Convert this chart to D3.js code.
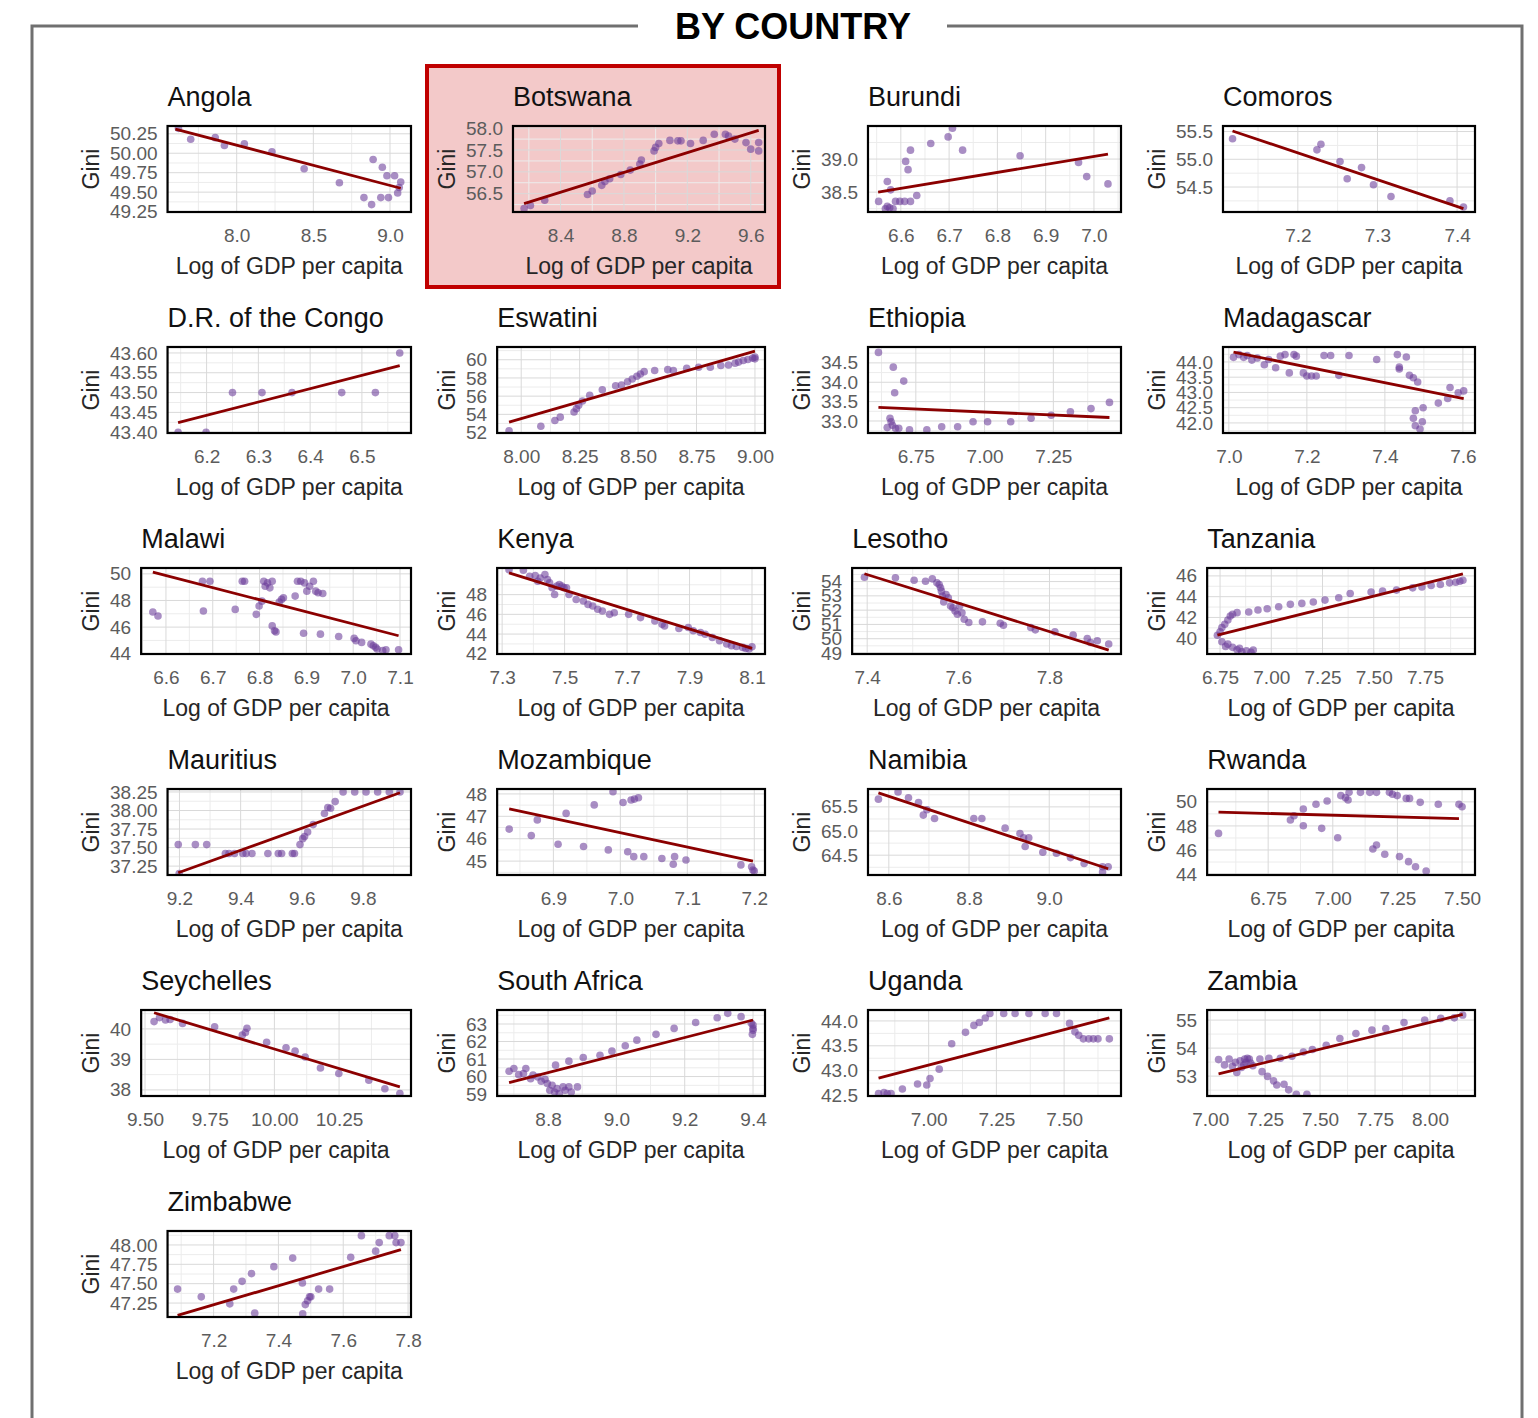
<!DOCTYPE html>
<html>
<head>
<meta charset="utf-8">
<script src="https://cdn.jsdelivr.net/npm/d3@7"></script>
<style>
  body { margin: 0; background: #fff; }
  svg { display: block; font-family: "Liberation Sans", Arial, sans-serif; }
</style>
</head>
<body>
<svg id="chart" width="1538" height="1418"></svg>
<script>
// ---- Countries, in panel order (row by row, four per row) ----
const countries = ["Angola", "Botswana", "Burundi", "Comoros",
  "D.R. of the Congo", "Eswatini", "Ethiopia", "Madagascar",
  "Malawi", "Kenya", "Lesotho", "Tanzania",
  "Mauritius", "Mozambique", "Namibia", "Rwanda",
  "Seychelles", "South Africa", "Uganda", "Zambia",
  "Zimbabwe"];
const highlighted = "Botswana";

// ---- Observations per country: [log GDP per capita, Gini] ----
const angola = [[7.62,50.32],[7.70,50.18],[7.86,50.20],[7.92,50.10],[8.05,50.12],[8.23,50.02],[8.44,49.80],[8.67,49.62],[8.83,49.43],[8.88,49.34],[8.89,49.92],[8.95,49.82],[8.98,49.71],[8.94,49.43],[8.99,49.43],[9.03,49.71],[9.05,49.49],[9.06,49.56],[9.07,49.63]];
const botswana = [[8.17,56.16],[8.21,56.23],[8.30,56.35],[8.57,56.48],[8.60,56.56],[8.66,56.69],[8.68,56.78],[8.71,56.84],[8.78,56.94],[8.84,57.04],[8.90,57.18],[8.91,57.27],[8.99,57.48],[9.00,57.56],[9.02,57.65],[9.09,57.72],[9.14,57.71],[9.16,57.71],[9.22,57.65],[9.30,57.72],[9.37,57.86],[9.44,57.86],[9.46,57.82],[9.50,57.75],[9.57,57.67],[9.60,57.52],[9.65,57.67],[9.65,57.48]];
const burundi = [[6.554,38.36],[6.568,38.25],[6.572,38.285],[6.577,38.265],[6.584,38.25],[6.572,38.66],[6.579,38.535],[6.589,38.36],[6.598,38.36],[6.608,38.36],[6.620,38.36],[6.633,38.45],[6.610,38.965],[6.615,38.84],[6.620,39.135],[6.662,39.235],[6.698,39.335],[6.707,39.465],[6.728,39.135],[6.847,39.05],[6.968,38.95],[6.985,38.735],[7.029,38.625]];
const comoros = [[7.118,55.37],[7.224,55.17],[7.229,55.27],[7.253,54.96],[7.262,54.65],[7.280,54.85],[7.295,54.54],[7.317,54.33],[7.391,54.25],[7.408,54.14]];
const drCongo = [[6.145,43.40],[6.199,43.40],[6.250,43.50],[6.307,43.50],[6.365,43.50],[6.461,43.50],[6.526,43.50],[6.573,43.60]];
const eswatini = [[7.948,52.2],[8.084,52.69],[8.144,53.32],[8.167,53.69],[8.226,54.25],[8.236,54.62],[8.246,54.99],[8.262,55.47],[8.293,56.10],[8.347,56.69],[8.404,57.14],[8.429,57.21],[8.455,57.58],[8.475,57.88],[8.495,58.18],[8.510,58.43],[8.526,58.69],[8.571,58.81],[8.627,58.91],[8.651,58.81],[8.708,59.07],[8.759,59.18],[8.809,59.18],[8.854,59.36],[8.887,59.43],[8.915,59.62],[8.93,59.74],[8.95,59.92],[8.97,60.03],[8.99,60.18],[9.00,60.29],[9.00,60.10]];
const ethiopia = [[6.614,34.77],[6.668,34.39],[6.706,34.03],[6.673,33.73],[6.656,33.07],[6.660,32.98],[6.646,32.83],[6.665,32.89],[6.676,32.81],[6.688,32.81],[6.727,32.77],[6.790,32.77],[6.844,32.85],[6.902,32.85],[6.958,32.98],[7.011,32.98],[7.095,32.98],[7.169,33.07],[7.242,33.15],[7.312,33.24],[7.387,33.32],[7.454,33.48]];
const madagascar = [[7.012,44.15],[7.026,44.24],[7.038,44.15],[7.047,44.21],[7.059,44.06],[7.073,44.13],[7.091,43.91],[7.102,44.08],[7.120,43.81],[7.132,44.19],[7.144,44.24],[7.155,43.64],[7.167,44.24],[7.173,44.19],[7.191,43.64],[7.200,43.54],[7.212,43.54],[7.224,43.54],[7.244,44.21],[7.261,44.21],[7.282,43.56],[7.308,44.21],[7.379,44.08],[7.432,44.24],[7.437,43.83],[7.437,43.77],[7.455,44.16],[7.463,43.56],[7.473,43.48],[7.484,43.34],[7.478,42.40],[7.473,42.15],[7.478,41.91],[7.496,42.04],[7.490,41.80],[7.498,42.50],[7.537,42.65],[7.561,42.80],[7.567,43.16],[7.588,42.99],[7.602,43.05]];
const malawi = [[6.572,47.13],[6.583,46.84],[6.680,47.21],[6.678,49.45],[6.694,49.45],[6.748,47.33],[6.763,49.45],[6.768,49.45],[6.793,46.96],[6.799,47.58],[6.805,47.95],[6.809,49.45],[6.812,49.07],[6.817,49.32],[6.822,48.95],[6.827,49.45],[6.827,46.09],[6.832,45.72],[6.835,45.64],[6.842,47.88],[6.847,48.08],[6.851,48.20],[6.876,48.33],[6.881,49.45],[6.888,49.45],[6.896,49.32],[6.901,48.70],[6.907,49.07],[6.915,49.45],[6.920,48.70],[6.925,48.58],[6.935,48.53],[6.894,45.54],[6.930,45.47],[6.969,45.30],[7.002,45.15],[7.006,44.97],[7.018,44.85],[7.038,44.72],[7.043,44.60],[7.051,44.35],[7.063,44.23],[7.070,44.30],[7.097,44.30],[7.048,44.48]];
const kenya = [[7.322,50.53],[7.368,50.47],[7.388,49.86],[7.406,49.93],[7.414,49.36],[7.422,49.69],[7.437,50.03],[7.445,49.53],[7.452,49.19],[7.460,48.69],[7.468,48.02],[7.475,48.86],[7.483,49.02],[7.491,48.86],[7.498,48.69],[7.506,48.69],[7.514,48.02],[7.537,47.51],[7.560,47.35],[7.575,47.01],[7.590,46.84],[7.606,46.51],[7.621,46.34],[7.644,46.00],[7.659,46.17],[7.705,46.00],[7.743,45.67],[7.789,45.33],[7.812,44.99],[7.820,44.83],[7.866,44.56],[7.896,44.66],[7.912,44.33],[7.935,44.16],[7.950,43.99],[7.973,43.66],[7.996,43.32],[8.019,42.99],[8.034,42.82],[8.05,42.75],[8.07,42.65],[8.08,42.55],[8.09,42.48],[8.10,42.72]];
const lesotho = [[7.394,54.30],[7.462,54.26],[7.503,54.09],[7.528,54.02],[7.543,54.19],[7.553,53.91],[7.558,53.79],[7.561,53.56],[7.563,53.33],[7.565,52.98],[7.568,52.57],[7.573,53.10],[7.578,52.87],[7.583,52.29],[7.588,52.17],[7.593,51.94],[7.598,51.71],[7.603,52.29],[7.608,51.82],[7.613,51.36],[7.623,51.13],[7.653,51.18],[7.692,51.08],[7.699,50.94],[7.759,50.78],[7.769,50.62],[7.812,50.48],[7.852,50.25],[7.883,50.02],[7.890,49.74],[7.905,49.86],[7.930,49.63]];
const tanzania = [[6.737,40.29],[6.750,40.61],[6.759,41.03],[6.773,41.35],[6.788,41.76],[6.800,42.14],[6.811,42.30],[6.833,42.46],[6.890,42.52],[6.935,42.71],[6.980,42.84],[7.036,43.03],[7.093,43.26],[7.149,43.35],[7.205,43.48],[7.262,43.67],[7.329,43.89],[7.385,44.31],[7.487,44.44],[7.543,44.53],[7.611,44.63],[7.690,44.85],[7.735,44.94],[7.780,45.07],[7.825,45.17],[7.870,45.33],[7.90,45.39],[7.92,45.49],[7.935,45.58],[6.759,39.66],[6.777,39.21],[6.788,39.43],[6.811,39.12],[6.833,38.89],[6.856,38.70],[6.879,38.80],[6.901,38.64],[6.912,38.86],[6.845,39.02]];
const mauritius = [[9.196,37.54],[9.252,37.54],[9.289,37.54],[9.350,37.42],[9.362,37.42],[9.380,37.42],[9.407,37.42],[9.418,37.42],[9.437,37.42],[9.489,37.42],[9.523,37.42],[9.534,37.42],[9.569,37.42],[9.576,37.42],[9.594,37.54],[9.603,37.62],[9.609,37.65],[9.619,37.71],[9.637,37.81],[9.674,37.96],[9.685,38.04],[9.694,38.03],[9.709,38.12],[9.735,38.25],[9.773,38.25],[9.810,38.25],[9.848,38.25],[9.886,38.25],[9.921,38.25],[9.199,37.15]];
const mozambique = [[6.834,46.43],[6.867,46.14],[6.876,46.84],[6.907,45.75],[6.919,47.13],[6.945,45.65],[6.961,47.51],[6.982,45.50],[6.989,48.10],[7.004,47.62],[7.011,45.42],[7.016,47.73],[7.020,45.20],[7.021,47.77],[7.027,47.83],[7.035,45.20],[7.062,45.12],[7.079,44.86],[7.081,45.20],[7.098,45.05],[7.18,44.83],[7.196,44.75],[7.198,44.60],[7.20,44.56]];
const namibia = [[8.574,65.66],[8.623,65.81],[8.649,65.69],[8.674,65.59],[8.686,65.33],[8.695,65.44],[8.714,65.26],[8.812,65.26],[8.832,65.26],[8.890,65.06],[8.927,64.95],[8.936,64.86],[8.940,64.68],[8.949,64.86],[8.984,64.56],[9.018,64.54],[9.053,64.45],[9.087,64.33],[9.133,64.26],[9.147,64.26],[9.133,64.15]];
const rwanda = [[6.558,47.38],[6.836,48.49],[6.850,48.85],[6.886,49.41],[6.886,48.02],[6.935,49.80],[6.957,47.80],[6.978,50.07],[7.019,47.02],[7.031,50.52],[7.049,50.35],[7.059,50.16],[7.063,50.79],[7.107,50.79],[7.143,50.79],[7.169,50.79],[7.219,50.79],[7.231,50.63],[7.249,50.52],[7.284,50.29],[7.297,50.29],[7.338,49.96],[7.408,49.80],[7.488,49.80],[7.500,49.60],[7.155,46.08],[7.169,46.42],[7.201,45.64],[7.258,45.45],[7.293,45.03],[7.320,44.61],[7.361,44.25]];
const seychelles = [[9.535,40.24],[9.556,40.37],[9.579,40.29],[9.597,40.31],[9.645,40.18],[9.769,40.07],[9.876,39.80],[9.888,39.88],[9.894,40.02],[9.970,39.56],[10.045,39.38],[10.080,39.27],[10.119,39.08],[10.178,38.72],[10.249,38.54],[10.365,38.32],[10.427,38.04],[10.485,37.88]];
const southAfrica = [[8.686,60.30],[8.700,60.46],[8.714,60.11],[8.728,60.17],[8.735,60.46],[8.749,59.88],[8.756,60.08],[8.770,59.98],[8.780,59.73],[8.791,59.85],[8.798,59.60],[8.805,59.22],[8.812,59.50],[8.819,59.12],[8.826,59.31],[8.833,59.03],[8.844,59.41],[8.850,59.22],[8.861,59.41],[8.868,59.12],[8.886,59.41],[8.822,60.65],[8.861,60.88],[8.903,61.09],[8.952,61.22],[8.987,61.45],[9.026,61.76],[9.060,62.08],[9.116,62.41],[9.169,62.75],[9.232,63.09],[9.295,63.36],[9.326,63.61],[9.365,63.42],[9.395,63.04],[9.40,62.75],[9.398,62.41],[9.40,62.65],[9.40,62.94]];
const uganda = [[6.815,42.54],[6.835,42.56],[6.847,42.54],[6.861,42.54],[6.903,42.63],[6.959,42.73],[6.993,42.71],[7.005,42.84],[7.039,43.03],[7.085,43.54],[7.136,43.77],[7.167,43.91],[7.187,43.97],[7.209,44.06],[7.226,44.15],[7.277,44.15],[7.319,44.15],[7.370,44.15],[7.430,44.15],[7.472,44.15],[7.520,43.95],[7.540,43.78],[7.554,43.71],[7.571,43.64],[7.591,43.64],[7.608,43.64],[7.625,43.64],[7.667,43.64]];
const zambia = [[7.038,53.59],[7.065,53.40],[7.086,53.61],[7.101,53.35],[7.115,53.49],[7.121,53.13],[7.136,53.55],[7.142,53.31],[7.153,53.40],[7.157,53.61],[7.163,53.49],[7.169,53.64],[7.178,53.61],[7.184,53.47],[7.194,53.37],[7.226,53.61],[7.267,53.64],[7.319,53.64],[7.236,53.16],[7.261,52.99],[7.288,52.83],[7.303,52.68],[7.336,52.71],[7.357,52.51],[7.392,52.35],[7.440,52.35],[7.372,53.71],[7.424,53.86],[7.465,53.95],[7.528,54.10],[7.590,54.34],[7.663,54.52],[7.736,54.64],[7.799,54.70],[7.882,54.91],[7.976,55.0],[8.049,55.06],[8.111,55.08],[8.149,55.18]];
const zimbabwe = [[7.089,47.43],[7.162,47.33],[7.250,47.24],[7.262,47.43],[7.288,47.53],[7.317,47.63],[7.327,47.12],[7.386,47.72],[7.444,47.83],[7.474,47.51],[7.475,47.11],[7.483,47.23],[7.490,47.28],[7.496,47.33],[7.500,47.33],[7.524,47.43],[7.558,47.43],[7.623,47.84],[7.656,48.12],[7.700,47.92],[7.711,48.03],[7.742,48.12],[7.759,48.12],[7.763,48.03],[7.778,48.03]];

const observations = [angola, botswana, burundi, comoros, drCongo, eswatini, ethiopia, madagascar,
  malawi, kenya, lesotho, tanzania, mauritius, mozambique, namibia, rwanda,
  seychelles, southAfrica, uganda, zambia, zimbabwe];

// ---- Fitted linear trend per country: [x start, Gini start, x end, Gini end] ----
const trendLines = [
  [7.60,50.31,9.07,49.55], [8.17,56.27,9.65,57.95], [6.553,38.50,7.029,39.075], [7.118,55.51,7.408,54.11],
  [6.145,43.424,6.573,43.568], [7.948,53.14,9.00,60.95], [6.614,33.35,7.454,33.09], [7.012,44.32,7.602,42.80],
  [6.572,50.13,7.097,45.35], [7.322,50.20,8.10,42.55], [7.394,54.55,7.930,49.20], [6.737,40.30,7.935,46.20],
  [9.196,37.16,9.921,38.24], [6.834,47.33,7.198,45.00], [8.574,65.79,9.147,64.22], [6.558,49.15,7.488,48.60],
  [9.535,40.53,10.485,38.10], [8.686,59.65,9.40,63.23], [6.815,42.85,7.667,44.06], [7.038,53.08,8.149,55.20],
  [7.089,47.09,7.778,47.94]
];

// ---- Axis limits (panel edges) ----
const xLimits = [
  [7.549,9.137], [8.10,9.69], [6.532,7.056], [7.106,7.4225],
  [6.1246,6.5948], [7.897,9.043], [6.576,7.496], [6.985,7.631],
  [6.547,7.1235], [7.284,8.1416], [7.367,7.957], [6.687,7.994],
  [9.161,9.957], [6.816,7.216], [8.548,9.179], [6.514,7.55],
  [9.485,10.528], [8.651,9.435], [6.776,7.71], [6.986,8.205],
  [7.058,7.809]
];
const yLimits = [
  [49.245,50.35], [56.08,58.05], [38.2,39.5], [54.05,55.6],
  [43.398,43.615], [51.95,61.4], [32.69,34.91], [41.67,44.49],
  [43.98,50.44], [41.98,50.7], [48.93,54.95], [38.48,46.76],
  [37.13,38.29], [44.38,48.22], [64.09,65.87], [43.92,51.07],
  [37.80,40.62], [58.89,63.8], [42.49,44.22], [52.29,55.36],
  [47.07,48.18]
];

// ---- Tick labels ----
const xTickLabels = [
  ["8.0","8.5","9.0"], ["8.4","8.8","9.2","9.6"], ["6.6","6.7","6.8","6.9","7.0"], ["7.2","7.3","7.4"],
  ["6.2","6.3","6.4","6.5"], ["8.00","8.25","8.50","8.75","9.00"], ["6.75","7.00","7.25"], ["7.0","7.2","7.4","7.6"],
  ["6.6","6.7","6.8","6.9","7.0","7.1"], ["7.3","7.5","7.7","7.9","8.1"], ["7.4","7.6","7.8"], ["6.75","7.00","7.25","7.50","7.75"],
  ["9.2","9.4","9.6","9.8"], ["6.9","7.0","7.1","7.2"], ["8.6","8.8","9.0"], ["6.75","7.00","7.25","7.50"],
  ["9.50","9.75","10.00","10.25"], ["8.8","9.0","9.2","9.4"], ["7.00","7.25","7.50"], ["7.00","7.25","7.50","7.75","8.00"],
  ["7.2","7.4","7.6","7.8"]
];
const yTickLabels = [
  ["49.25","49.50","49.75","50.00","50.25"], ["56.5","57.0","57.5","58.0"], ["38.5","39.0"], ["54.5","55.0","55.5"],
  ["43.40","43.45","43.50","43.55","43.60"], ["52","54","56","58","60"], ["33.0","33.5","34.0","34.5"], ["42.0","42.5","43.0","43.5","44.0"],
  ["44","46","48","50"], ["42","44","46","48"], ["49","50","51","52","53","54"], ["40","42","44","46"],
  ["37.25","37.50","37.75","38.00","38.25"], ["45","46","47","48"], ["64.5","65.0","65.5"], ["44","46","48","50"],
  ["38","39","40"], ["59","60","61","62","63"], ["42.5","43.0","43.5","44.0"], ["53","54","55"],
  ["47.25","47.50","47.75","48.00"]
];

const xTitle = "Log of GDP per capita";
const yTitle = "Gini";
const heading = "BY COUNTRY";

// ---- Layout ----
const svg = d3.select("#chart");
const colRight = [411, 765, 1121, 1475];
const colYTitle = [91, 447, 802, 1157];
const firstBoxTop = 126, rowStep = 221, boxH = 86;
const tickFont = 19, titleFont = 27, axisTitleFont = 23;

svg.append("rect").attr("width", 1538).attr("height", 1418).attr("fill", "#fff");

// outer frame with the heading breaking the top edge
svg.append("path")
  .attr("d", "M32,1420 V26 H638 M947,26 H1522 V1420")
  .attr("fill", "none").attr("stroke", "#707070").attr("stroke-width", 3);
svg.append("text")
  .attr("x", 793).attr("y", 26).attr("dy", "0.36em")
  .attr("text-anchor", "middle")
  .attr("font-size", 36).attr("font-weight", "bold").attr("fill", "#000")
  .text(heading);

// text width helper for the y tick labels
const measure = svg.append("text").attr("font-size", tickFont).attr("visibility", "hidden");
function textWidth(s) { measure.text(s); return measure.node().getComputedTextLength(); }

const defs = svg.append("defs");

countries.forEach((name, i) => {
  const col = i % 4, row = Math.floor(i / 4);
  const labelW = d3.max(yTickLabels[i], textWidth);
  const left = colYTitle[col] + 18 + labelW + 11;
  const right = colRight[col];
  const top = firstBoxTop + row * rowStep;
  const bottom = top + boxH;

  const g = svg.append("g").attr("class", "panel");

  if (name === highlighted) {
    g.append("rect")
      .attr("x", colYTitle[col] - 20).attr("y", top - 60)
      .attr("width", right + 14 - (colYTitle[col] - 20)).attr("height", bottom + 75 - (top - 60))
      .attr("fill", "#f3c9c9").attr("stroke", "#c00000").attr("stroke-width", 4);
  }

  const x = d3.scaleLinear().domain(xLimits[i]).range([left, right]);
  const y = d3.scaleLinear().domain(yLimits[i]).range([bottom, top]);

  const xTicks = xTickLabels[i].map(Number);
  const yTicks = yTickLabels[i].map(Number);

  // minor breaks half-way between majors (and one step beyond each end)
  function minors(ticks, dom) {
    const step = ticks.length > 1 ? ticks[1] - ticks[0] : (dom[1] - dom[0]) / 2;
    const out = [];
    for (let k = -1; k < ticks.length; k++) {
      const v = (k < 0 ? ticks[0] - step : ticks[k]) + step / 2;
      if (v > dom[0] && v < dom[1]) out.push(v);
    }
    return out;
  }

  const clipId = "clip" + i;
  defs.append("clipPath").attr("id", clipId)
    .append("rect").attr("x", left).attr("y", top).attr("width", right - left).attr("height", bottom - top);

  const plot = g.append("g").attr("clip-path", `url(#${clipId})`);

  if (name !== highlighted) {
    plot.append("rect").attr("x", left).attr("y", top).attr("width", right - left).attr("height", bottom - top)
      .attr("fill", "#fff");
  }

  plot.selectAll(".minor-x").data(minors(xTicks, xLimits[i])).join("line")
    .attr("x1", d => x(d)).attr("x2", d => x(d)).attr("y1", top).attr("y2", bottom)
    .attr("stroke", "#ececec").attr("stroke-width", 1);
  plot.selectAll(".minor-y").data(minors(yTicks, yLimits[i])).join("line")
    .attr("y1", d => y(d)).attr("y2", d => y(d)).attr("x1", left).attr("x2", right)
    .attr("stroke", "#ececec").attr("stroke-width", 1);
  plot.selectAll(".major-x").data(xTicks).join("line")
    .attr("x1", d => x(d)).attr("x2", d => x(d)).attr("y1", top).attr("y2", bottom)
    .attr("stroke", "#d9d9d9").attr("stroke-width", 1);
  plot.selectAll(".major-y").data(yTicks).join("line")
    .attr("y1", d => y(d)).attr("y2", d => y(d)).attr("x1", left).attr("x2", right)
    .attr("stroke", "#d9d9d9").attr("stroke-width", 1);

  // observations
  plot.selectAll("circle").data(observations[i]).join("circle")
    .attr("cx", d => x(d[0])).attr("cy", d => y(d[1])).attr("r", 3.8)
    .attr("fill", "#6a3d9a").attr("fill-opacity", 0.58);

  // fitted trend
  const t = trendLines[i];
  plot.append("line")
    .attr("x1", x(t[0])).attr("y1", y(t[1])).attr("x2", x(t[2])).attr("y2", y(t[3]))
    .attr("stroke", "#8b0000").attr("stroke-width", 2.8);

  // panel border
  g.append("rect").attr("x", left).attr("y", top).attr("width", right - left).attr("height", bottom - top)
    .attr("fill", "none").attr("stroke", "#000").attr("stroke-width", 2.2);

  // axes
  const xAxis = d3.axisBottom(x).tickValues(xTicks).tickFormat((d, k) => xTickLabels[i][k])
    .tickSize(0).tickPadding(17);
  const yAxis = d3.axisLeft(y).tickValues(yTicks).tickFormat((d, k) => yTickLabels[i][k])
    .tickSize(0).tickPadding(10);

  const gx = g.append("g").attr("transform", `translate(0,${bottom})`).call(xAxis);
  const gy = g.append("g").attr("transform", `translate(${left},0)`).call(yAxis);
  [gx, gy].forEach(a => {
    a.select(".domain").remove();
    a.selectAll("text").attr("font-size", tickFont).attr("fill", "#5c5c5c")
      .attr("font-family", "Liberation Sans, Arial, sans-serif");
  });

  // titles
  g.append("text").attr("x", left).attr("y", top - 20)
    .attr("font-size", titleFont).attr("fill", "#111").text(name);
  g.append("text").attr("x", (left + right) / 2).attr("y", bottom + 62)
    .attr("text-anchor", "middle").attr("font-size", axisTitleFont).attr("fill", "#262626").text(xTitle);
  g.append("text")
    .attr("transform", `translate(${colYTitle[col]},${(top + bottom) / 2}) rotate(-90)`)
    .attr("text-anchor", "middle").attr("dy", "0.35em")
    .attr("font-size", axisTitleFont).attr("fill", "#262626").text(yTitle);
});

measure.remove();
</script>
</body>
</html>
